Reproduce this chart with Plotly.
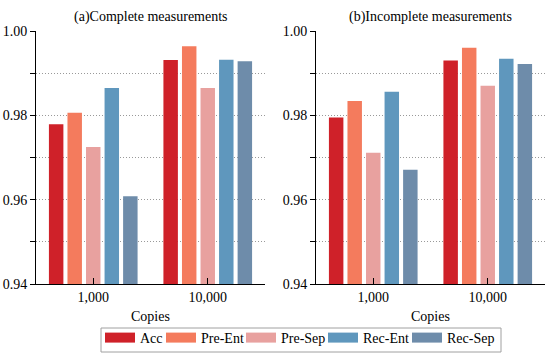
import plotly.graph_objects as go
from plotly.subplots import make_subplots

categories = ["1,000", "10,000"]
series_names = ["Acc", "Pre-Ent", "Pre-Sep", "Rec-Ent", "Rec-Sep"]
colors = ["#CF2129", "#F47B5D", "#E8A19F", "#5F97BD", "#6E8CAA"]

complete_vals = {
    "Acc": [0.9779, 0.9931],
    "Pre-Ent": [0.9806, 0.9964],
    "Pre-Sep": [0.9725, 0.9865],
    "Rec-Ent": [0.9865, 0.9932],
    "Rec-Sep": [0.9608, 0.9928],
}
incomplete_vals = {
    "Acc": [0.9795, 0.9930],
    "Pre-Ent": [0.9834, 0.9960],
    "Pre-Sep": [0.9711, 0.9870],
    "Rec-Ent": [0.9856, 0.9934],
    "Rec-Sep": [0.9671, 0.9922],
}
panel_titles = ["(a)Complete measurements", "(b)Incomplete measurements"]
x_title = "Copies"
y_tickvals = [0.94, 0.96, 0.98, 1.00]
y_ticktext = ["0.94", "0.96", "0.98", "1.00"]

FONT = "Liberation Serif"

W, H = 550, 355
ML, MR, MT = 36, 5, 31
MB = H - 284
PW, PH = W - ML - MR, H - MT - MB


def sx(px):  # pixel x -> paper x
    return (px - ML) / PW


def sy(py):  # pixel y -> paper y
    return (H - MB - py) / PH


fig = make_subplots(rows=1, cols=2, horizontal_spacing=0.1)

for col, data in enumerate([complete_vals, incomplete_vals], start=1):
    for name, c in zip(series_names, colors):
        fig.add_trace(
            go.Bar(x=categories, y=data[name], name=name, marker_color=c,
                   marker_line_width=0, showlegend=False, base=0),
            row=1, col=col,
        )

legend_px = [100, 161, 241, 323, 407]
legend_keys = ["legend", "legend2", "legend3", "legend4", "legend5"]
for name, c, key in zip(series_names, colors, legend_keys):
    fig.add_trace(go.Scatter(x=[None], y=[None], mode="lines", name=name, legend=key,
                             line=dict(color=c, width=12), showlegend=True))

legend_layout = {}
for key, px in zip(legend_keys, legend_px):
    legend_layout[key] = dict(x=sx(px), xanchor="left",
                              y=sy(338), yanchor="middle",
                              bgcolor="rgba(0,0,0,0)", borderwidth=0,
                              font=dict(size=14, family=FONT), itemwidth=30)

fig.update_layout(
    width=W, height=H,
    margin=dict(l=ML, r=MR, t=MT, b=MB, autoexpand=False),
    plot_bgcolor="white", paper_bgcolor="white",
    barmode="group", bargap=0.19, bargroupgap=0.22,
    font=dict(family=FONT, size=14, color="black"),
    **legend_layout,
)

fig.add_shape(type="rect", xref="paper", yref="paper",
              x0=sx(101), x1=sx(501), y0=sy(352), y1=sy(328),
              line=dict(color="#A0A0A0", width=1), fillcolor="rgba(0,0,0,0)")

left_dom = (sx(36), sx(265))
right_dom = (sx(316), sx(545))

for col in (1, 2):
    fig.update_yaxes(
        range=[0.94, 1.0], tickvals=y_tickvals, ticktext=y_ticktext,
        showline=True, linecolor="black", linewidth=1,
        ticks="outside", ticklen=5, tickcolor="black", tickwidth=1,
        showgrid=True, gridcolor="#999999", griddash="1px,2px", gridwidth=1,
        minor=dict(dtick=0.01, ticks="outside", ticklen=5, tickcolor="black", tickwidth=1,
                   showgrid=True, gridcolor="#999999", griddash="1px,2px", gridwidth=1),
        zeroline=False, tickfont=dict(size=14), row=1, col=col,
    )
    fig.update_xaxes(
        showline=True, linecolor="black", linewidth=1,
        ticks="inside", ticklen=6, tickcolor="black",
        showgrid=False, tickfont=dict(size=14),
        row=1, col=col,
    )

fig.update_xaxes(domain=list(left_dom), row=1, col=1)
fig.update_xaxes(domain=list(right_dom), row=1, col=2)

for dom, t in zip([left_dom, right_dom], panel_titles):
    cx = (dom[0] + dom[1]) / 2
    fig.add_annotation(text=t, x=cx, y=1, xref="paper", yref="paper",
                       xanchor="center", yanchor="bottom", yshift=4, showarrow=False,
                       font=dict(size=14))
    fig.add_annotation(text=x_title, x=cx, y=sy(316), xref="paper", yref="paper",
                       xanchor="center", yanchor="middle", showarrow=False,
                       font=dict(size=14))

fig.write_html("out.html", config={"displayModeBar": False},
               post_script="document.body.style.margin='0';document.body.style.overflow='hidden';")
